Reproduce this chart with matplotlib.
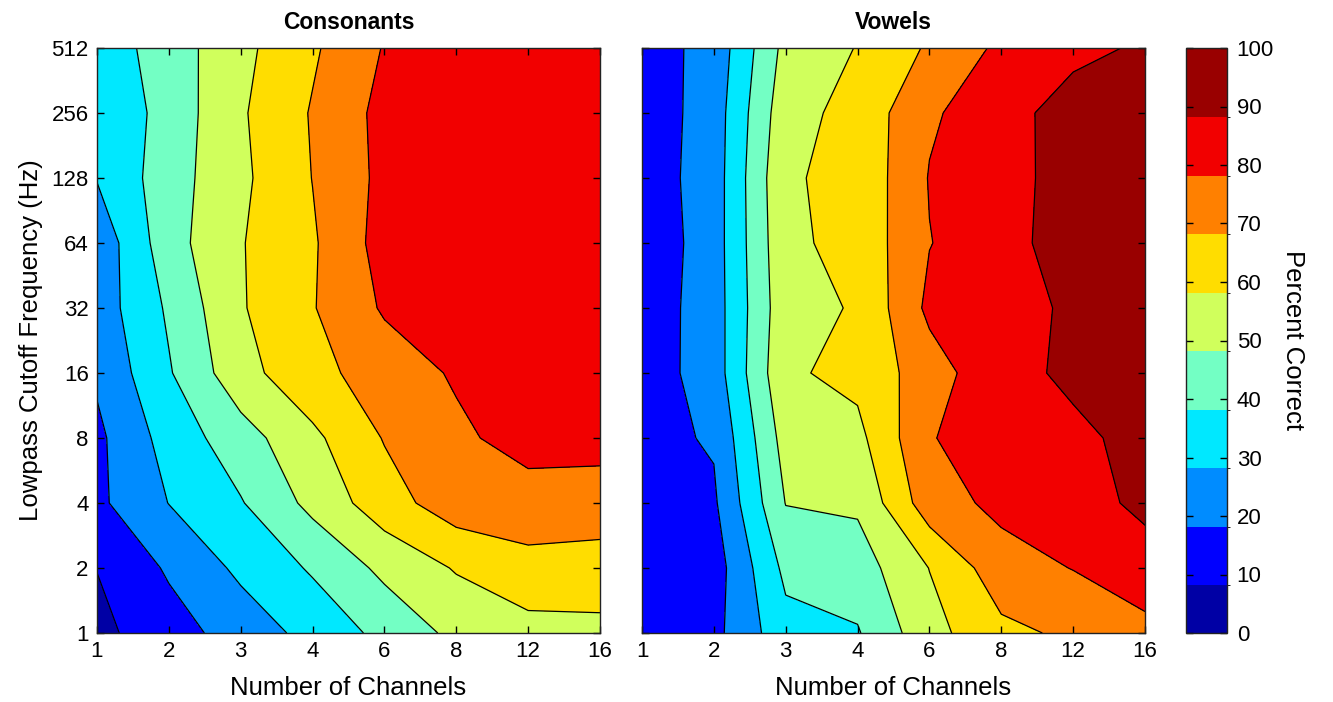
import numpy as np
import matplotlib.pyplot as plt
from matplotlib.colors import ListedColormap, BoundaryNorm
from matplotlib.cm import ScalarMappable

plt.rcParams['font.family'] = ['Liberation Sans', 'DejaVu Sans']

# axis categories
channels = ['1', '2', '3', '4', '6', '8', '12', '16']
cutoffs = ['1', '2', '4', '8', '16', '32', '64', '128', '256', '512']

# percent correct, rows = lowpass cutoff (1 Hz -> 512 Hz), cols = number of channels
consonants = [
    [7.4, 15.8, 24.3, 33.2, 42.8, 52.5, 56.3, 57.6],
    [10.2, 21.3, 32.1, 41.2, 52.4, 60.8, 67.0, 65.3],
    [17.9, 30.2, 39.3, 52.8, 65.7, 75.5, 75.5, 76.0],
    [17.8, 34.0, 45.7, 57.8, 70.6, 78.0, 84.0, 83.0],
    [21.6, 39.1, 56.5, 67.1, 74.5, 81.2, 85.0, 85.0],
    [24.5, 41.5, 59.1, 69.4, 81.2, 85.0, 87.0, 87.0],
    [23.0, 46.0, 59.4, 68.8, 84.0, 87.0, 88.0, 88.0],
    [30.5, 45.5, 57.9, 70.2, 82.6, 86.0, 87.0, 87.0],
    [31.0, 43.9, 58.8, 70.8, 83.0, 86.0, 87.0, 87.0],
    [34.0, 44.9, 57.3, 68.6, 80.6, 84.0, 86.0, 86.0],
]
vowels = [
    [11.0, 17.2, 36.5, 39.2, 56.6, 67.6, 71.8, 76.6],
    [12.0, 15.2, 42.5, 45.2, 60.2, 75.9, 80.3, 86.9],
    [13.0, 18.5, 50.3, 51.6, 75.6, 82.5, 87.0, 91.6],
    [17.0, 21.0, 54.2, 57.2, 79.2, 87.0, 88.5, 92.1],
    [14.6, 24.8, 58.5, 62.8, 75.2, 87.6, 91.4, 95.0],
    [14.1, 25.1, 56.8, 60.8, 82.3, 85.0, 92.0, 95.0],
    [12.8, 25.2, 58.0, 63.1, 79.7, 86.0, 95.3, 96.0],
    [14.3, 25.0, 59.0, 62.5, 80.5, 86.0, 94.4, 96.0],
    [13.7, 24.8, 56.5, 63.2, 78.7, 85.5, 95.1, 96.0],
    [15.4, 23.3, 53.1, 60.4, 71.3, 82.1, 87.0, 91.5],
]

levels = list(range(0, 101, 10))
colors = ['#0000a5', '#0000ff', '#008cff', '#00e8ff', '#73ffc4',
          '#d0ff5c', '#ffdd00', '#ff8000', '#f20000', '#990000']
# the colour bar blocks sit a little below the tick values in the original
cbar_bounds = [0, 8.2, 18.2, 28.2, 38.2, 48.2, 58.2, 68.2, 78.2, 88.2, 100]

fig = plt.figure(figsize=(13.33, 7.02), dpi=100)
W, H = 1333, 702
ax1 = fig.add_axes([97 / W, 69 / H, 503 / W, 585 / H])
ax2 = fig.add_axes([642 / W, 69 / H, 503 / W, 585 / H])
cax = fig.add_axes([1186 / W, 69 / H, 41 / W, 585 / H])

xi = np.arange(len(channels))
yi = np.arange(len(cutoffs))

for ax, data, title in [(ax1, consonants, 'Consonants'), (ax2, vowels, 'Vowels')]:
    z = np.array(data)
    ax.contourf(xi, yi, z, levels=levels, colors=colors)
    ax.contour(xi, yi, z, levels=levels[1:-1], colors='black', linewidths=0.9)
    ax.set_xlim(0, len(channels) - 1)
    ax.set_ylim(0, len(cutoffs) - 1)
    ax.set_xticks(xi)
    ax.set_xticklabels(channels)
    ax.set_yticks(yi)
    ax.tick_params(direction='in', length=5, width=1, top=True, right=True,
                   labelsize=16, pad=6)
    ax.set_xlabel('Number of Channels', fontsize=18.5, labelpad=10)
    ax.set_title(title, fontsize=16.5, fontweight='bold', pad=14)
    for s in ax.spines.values():
        s.set_linewidth(1)
        s.set_color('#222222')

ax1.set_yticklabels(cutoffs)
ax1.set_ylabel('Lowpass Cutoff Frequency (Hz)', fontsize=18.5, labelpad=6)
ax2.set_yticklabels([])

sm = ScalarMappable(norm=BoundaryNorm(cbar_bounds, len(colors)),
                    cmap=ListedColormap(colors))
cb = fig.colorbar(sm, cax=cax, ticks=levels, spacing='proportional')
cb.ax.tick_params(direction='in', length=5, width=1, left=True, right=True,
                  labelsize=16, pad=7)
cb.outline.set_linewidth(1)
cb.outline.set_edgecolor('#222222')
cb.set_label('Percent Correct', fontsize=18.5, rotation=270, labelpad=22)

fig.savefig('out.png', dpi=100)
